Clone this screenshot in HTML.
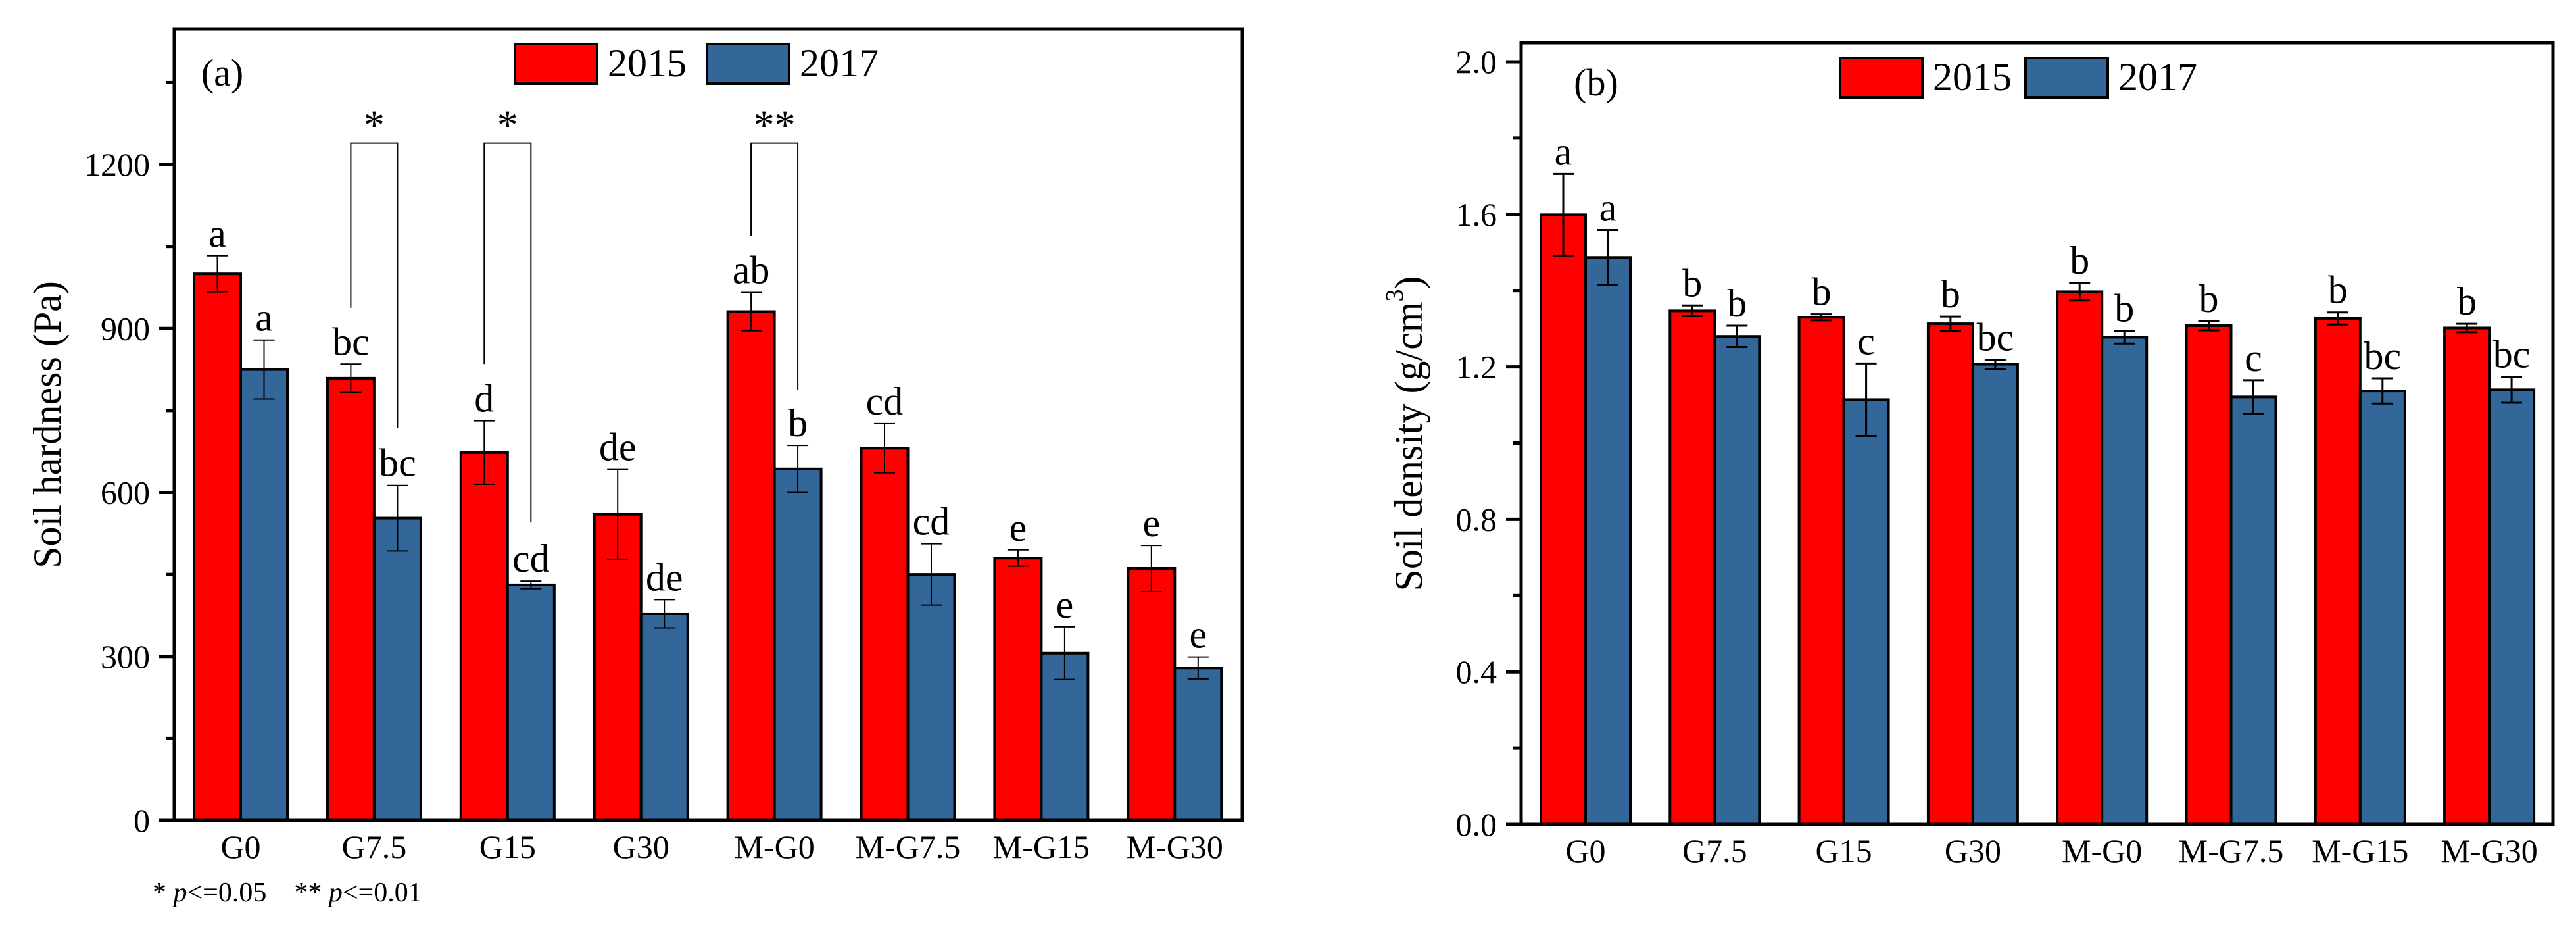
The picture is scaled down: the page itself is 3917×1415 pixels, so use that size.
<!DOCTYPE html>
<html><head><meta charset="utf-8"><title>Soil hardness and density</title>
<style>html,body{margin:0;padding:0;background:#fff}svg{display:block}text{font-family:"Liberation Serif",serif;fill:#000}</style>
</head><body>
<svg id="fig" width="3917" height="1415" viewBox="0 0 3917 1415" xmlns="http://www.w3.org/2000/svg">
<g id="pa"></g>
<g id="pb"></g>
</svg>
<script>
const categories = ["G0","G7.5","G15","G30","M-G0","M-G7.5","M-G15","M-G30"];
const hard2015 = [1000,809,673,560,931,681,480,461];
const hard2017 = [825,553,431,378,643,450,306,279];
const hardErr2015 = [33,26,58,82,35,45,15,42];
const hardErr2017 = [54,60,7,26,43,56,48,20];
const hardLet2015 = ["a","bc","d","de","ab","cd","e","e"];
const hardLet2017 = ["a","bc","cd","de","b","cd","e","e"];
const hardTicks = [0,300,600,900,1200];
const dens2015 = [1.599,1.347,1.330,1.313,1.397,1.308,1.327,1.302];
const dens2017 = [1.487,1.280,1.114,1.207,1.278,1.121,1.137,1.140];
const densErr2015 = [0.107,0.014,0.008,0.019,0.023,0.012,0.016,0.011];
const densErr2017 = [0.072,0.028,0.095,0.012,0.017,0.044,0.033,0.034];
const densLet2015 = ["b","b","b","b","b","b","b","b"];
densLet2015[0]="a";
const densLet2017 = ["a","b","c","bc","b","c","bc","bc"];
const densTicks = [0.0,0.4,0.8,1.2,1.6,2.0];
// significance brackets: [category index, left start value, top value, right end value, stars]
const brackets = [[1,938,1239,718,"*"],[2,835,1239,545,"*"],[4,1070,1239,788,"**"]];

const NS="http://www.w3.org/2000/svg";
function mk(parent,tag,attrs){const e=document.createElementNS(NS,tag);for(const k in attrs)e.setAttribute(k,attrs[k]);parent.appendChild(e);return e;}
function txt(parent,s,attrs){const e=mk(parent,"text",attrs);e.textContent=s;return e;}

function drawPanel(g,cfg){
  const y=v=>cfg.y0-(v-cfg.vmin)/(cfg.vmax-cfg.vmin)*(cfg.y0-cfg.ytop);
  const xc=i=>cfg.x0c+i*cfg.step;
  // bars
  for(let i=0;i<categories.length;i++){
    const sets=[[cfg.s1,cfg.e1,cfg.l1,"#ff0000",-1,"2015"],[cfg.s2,cfg.e2,cfg.l2,"#336699",0,"2017"]];
    sets.forEach(([s,e,l,col,off,yr])=>{
      const bx=xc(i)+off*cfg.bw, by=y(s[i]);
      const r=mk(g,"rect",{x:bx,y:by,width:cfg.bw,height:cfg.y0-by,fill:col,stroke:"#000","stroke-width":4});
      
      
      const cx=bx+cfg.bw/2, t=y(s[i]+e[i]), b=y(s[i]-e[i]);
      const eb=mk(g,"path",{d:`M${cx},${t}V${b}M${cx-16},${t}H${cx+16}M${cx-16},${b}H${cx+16}`,stroke:"#000","stroke-width":cfg.ew,fill:"none"});
      
      
      const lt=txt(g,l[i],{x:cx,y:t-14,"font-size":60,"text-anchor":"middle"});
      
      
    });
    const xl=txt(g,categories[i],{x:xc(i),y:cfg.y0+57,"font-size":50,"text-anchor":"middle"});
    
    
  }
  // frame
  const fr=mk(g,"rect",{x:cfg.x0,y:cfg.ytop,width:cfg.x1-cfg.x0,height:cfg.y0-cfg.ytop,fill:"none",stroke:"#000","stroke-width":5});
  
  
  // ticks
  cfg.ticks.forEach((v,k)=>{
    const ty=y(v);
    mk(g,"line",{x1:cfg.x0-23,x2:cfg.x0,y1:ty,y2:ty,stroke:"#000","stroke-width":5});
    const tl=txt(g,cfg.fmt(v),{x:cfg.x0-37,y:ty+17,"font-size":50,"text-anchor":"end"});
    
    
    const mv=v+(cfg.ticks[1]-cfg.ticks[0])/2;
    if(mv<cfg.vmax){const my=y(mv);mk(g,"line",{x1:cfg.x0-12,x2:cfg.x0,y1:my,y2:my,stroke:"#000","stroke-width":5});}
  });
  const tx=cfg.titleX, tyc=(cfg.y0+cfg.ytop)/2;
  const tt=mk(g,"text",{x:tx,y:tyc,"font-size":60,"text-anchor":"middle",transform:`rotate(-90 ${tx} ${tyc})`,"dominant-baseline":"central"});
  tt.innerHTML=cfg.title;
  
  
  const pl=txt(g,cfg.label,{x:cfg.labX,y:cfg.labY,"font-size":58,"text-anchor":"middle"});
  
  
  // legend
  const L=cfg.leg;
  const r1=mk(g,"rect",{x:L[0],y:L[1],width:125,height:60,fill:"#ff0000",stroke:"#000","stroke-width":4});
  
  
  const t1=txt(g,"2015",{x:L[0]+141,y:L[1]+49,"font-size":60});
  
  
  const r2=mk(g,"rect",{x:L[2],y:L[1],width:125,height:60,fill:"#336699",stroke:"#000","stroke-width":4});
  
  
  const t2=txt(g,"2017",{x:L[2]+141,y:L[1]+49,"font-size":60});
  
  
  return {y,xc};
}

const A=drawPanel(document.getElementById("pa"),{x0:265,x1:1889,ytop:44,y0:1247,vmin:0,vmax:1448,x0c:366,step:202.9,bw:71,ew:2,
  s1:hard2015,s2:hard2017,e1:hardErr2015,e2:hardErr2017,l1:hardLet2015,l2:hardLet2017,ticks:hardTicks,fmt:v=>String(v),
  title:"Soil hardness (Pa)",titleX:72,label:"(a)",labX:338,labY:130,leg:[783,67,1075]});
const B=drawPanel(document.getElementById("pb"),{x0:2313,x1:3882,ytop:65,y0:1253,vmin:0,vmax:2.05,x0c:2411,step:196.3,bw:68,ew:3,
  s1:dens2015,s2:dens2017,e1:densErr2015,e2:densErr2017,l1:densLet2015,l2:densLet2017,ticks:densTicks,fmt:v=>v.toFixed(1),
  title:'Soil density (g/cm<tspan baseline-shift="super" font-size="38">3</tspan>)',titleX:2142,label:"(b)",labX:2427,labY:145,leg:[2798,88,3080]});

const pa=document.getElementById("pa");
brackets.forEach(([i,ls,top,re,st])=>{
  const xl=A.xc(i)-35.5, xr=A.xc(i)+35.5;
  const p=mk(pa,"path",{d:`M${xl},${A.y(ls)}V${A.y(top)}H${xr}V${A.y(re)}`,stroke:"#000","stroke-width":2,fill:"none"});
  
  
  const s=txt(pa,st,{x:A.xc(i),y:A.y(top)-6,"font-size":64,"text-anchor":"middle"});
  
  
});
const fn=mk(pa,"text",{x:232,y:1370,"font-size":42});
fn.innerHTML='* <tspan font-style="italic">p</tspan>&lt;=0.05&#160;&#160;&#160;&#160;** <tspan font-style="italic">p</tspan>&lt;=0.01';


</script>
</body></html>
